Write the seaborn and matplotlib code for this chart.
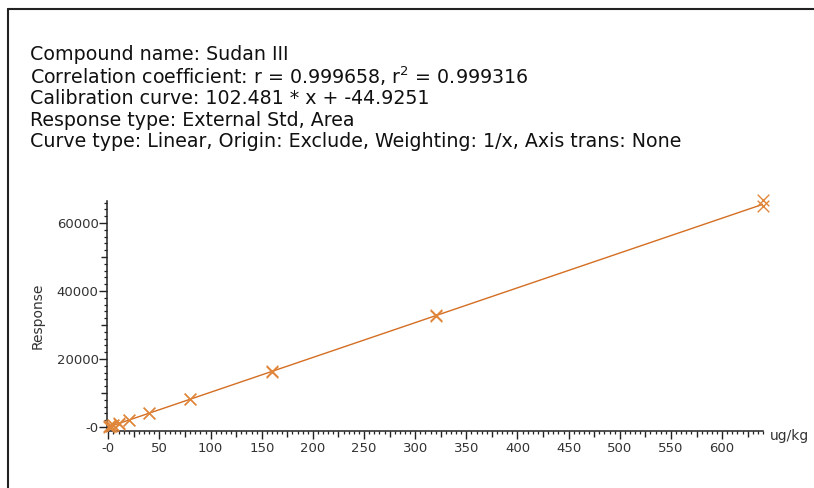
import numpy as np
import pandas as pd
import matplotlib
matplotlib.use("Agg")
import matplotlib.pyplot as plt
from matplotlib.lines import Line2D
from matplotlib.ticker import MultipleLocator, FuncFormatter
import seaborn as sns

sns.set_style("ticks")
plt.rcParams["font.family"] = ["DejaVu Sans"]

# Donnees
conc = [1, 1, 2.5, 2.5, 5, 5, 10, 10, 20, 20, 40, 40, 80, 80,
        160, 160, 320, 320, 640, 640]
response = [80, 130, 230, 280, 480, 540, 980, 1070, 2000, 2090, 4050, 3980,
            8250, 8150, 16600, 16250, 33050, 32750, 66800, 65100]
fit_x = [0, 640]
fit_y = [-45, 65543]

header = [
    "Compound name: Sudan III",
    "Correlation coefficient: r = 0.999658, r$^2$ = 0.999316",
    "Calibration curve: 102.481 * x + -44.9251",
    "Response type: External Std, Area",
    "Curve type: Linear, Origin: Exclude, Weighting: 1/x, Axis trans: None",
]

line_color = "#D46E22"
mark_color = "#E0863A"

W, H = 814, 488
fig = plt.figure(figsize=(W / 100, H / 100), dpi=100)
ax = fig.add_axes([107 / W, (H - 431) / H, (763 - 107) / W, (431 - 201) / H])

pts = pd.DataFrame({"conc": conc, "response": response})
fit = pd.DataFrame({"conc": fit_x, "response": fit_y})

sns.lineplot(data=fit, x="conc", y="response", ax=ax, color=line_color, lw=1.0)
sns.scatterplot(data=pts, x="conc", y="response", ax=ax, marker="x",
                color=mark_color, s=70, linewidth=1.0, clip_on=False, zorder=3)

ax.set_xlim(-1.3, 640)
ax.set_ylim(-1200, 66500)

ax.xaxis.set_major_locator(MultipleLocator(25))
ax.xaxis.set_minor_locator(MultipleLocator(5))
ax.yaxis.set_major_locator(MultipleLocator(10000))
ax.yaxis.set_minor_locator(MultipleLocator(2000))


def fmt_x(v, pos):
    v = int(round(v))
    if v % 50:
        return ""
    return "-0" if v == 0 else str(v)


def fmt_y(v, pos):
    v = int(round(v))
    if v % 20000:
        return ""
    return "-0" if v == 0 else str(v)


ax.xaxis.set_major_formatter(FuncFormatter(fmt_x))
ax.yaxis.set_major_formatter(FuncFormatter(fmt_y))

for side in ["top", "right"]:
    ax.spines[side].set_visible(False)
for side in ["left", "bottom"]:
    ax.spines[side].set_color("#222222")
    ax.spines[side].set_linewidth(1.1)

ax.tick_params(which="major", direction="out", length=4, width=1.0,
               color="#222222", labelsize=9.5, labelcolor="#333333", pad=2)
ax.tick_params(axis="x", which="major", pad=4)
ax.tick_params(which="minor", direction="out", length=2.5, width=0.9,
               color="#222222")

ax.set_xlabel("")
ax.set_ylabel("Response", fontsize=10, color="#333333", labelpad=9)
ax.text(1.01, -0.02, "ug/kg", transform=ax.transAxes, fontsize=10,
        color="#333333", ha="left", va="center")

# allonger les graduations principales portant un libelle
fig.canvas.draw()
for t in ax.xaxis.get_major_ticks():
    if int(round(t.get_loc())) % 50 == 0:
        t.tick1line.set_markersize(5.5)
for t in ax.yaxis.get_major_ticks():
    if int(round(t.get_loc())) % 20000 == 0:
        t.tick1line.set_markersize(5.5)

# bloc d'en-tete
for i, line in enumerate(header):
    fig.text(30 / W, 1 - (54 + 22 * i) / H, line, fontsize=13.7,
             color="#111111", ha="left", va="center")

# cadre de la figure (haut et gauche)
fig.add_artist(Line2D([8 / W, 1], [1 - 9 / H, 1 - 9 / H], transform=fig.transFigure,
                      color="#222222", lw=1.5))
fig.add_artist(Line2D([8 / W, 8 / W], [0, 1 - 9 / H], transform=fig.transFigure,
                      color="#222222", lw=1.5))

fig.savefig("out.png", dpi=100)
plt.close(fig)
